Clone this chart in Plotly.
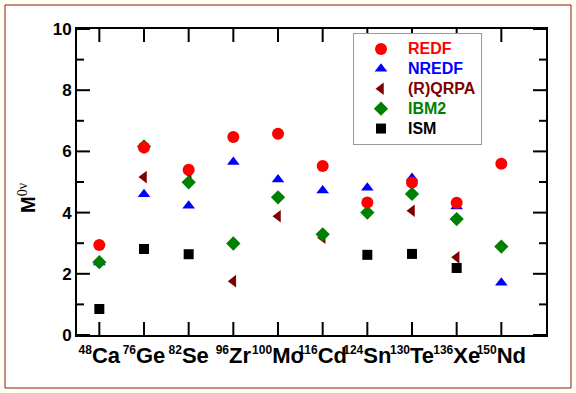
import plotly.graph_objects as go

nuclei = ["Ca", "Ge", "Se", "Zr", "Mo", "Cd", "Sn", "Te", "Xe", "Nd"]
mass = ["48", "76", "82", "96", "100", "116", "124", "130", "136", "150"]
xpos = [1, 2, 3, 4, 5, 6, 7, 8, 9, 10]

redf = [2.94, 6.13, 5.40, 6.47, 6.58, 5.52, 4.33, 4.98, 4.32, 5.60]
nredf = [2.37, 4.60, 4.22, 5.65, 5.08, 4.72, 4.81, 5.13, 4.20, 1.71]
qrpa = [None, 5.16, 5.30, 1.76, 3.88, 3.18, None, 4.06, 2.54, None]
ibm2 = [2.38, 6.16, 4.99, 2.99, 4.50, 3.29, 4.00, 4.61, 3.79, 2.89]
ism = [0.85, 2.81, 2.64, None, None, None, 2.62, 2.65, 2.19, None]

ytick_major = [0, 2, 4, 6, 8, 10]
ytick_minor = [1, 3, 5, 7, 9]
x_range = [0.5, 11]
y_range = [0, 10]

W, H = 576, 393
L, R, T, B = 77, 546, 29, 335
CREAM = "#FFFEF0"
PW, PH = R - L, B - T

def px(x):
    return (x - L) / PW

def py(y):
    return (B - y) / PH

fig = go.Figure()

def lbl(name, color):
    return f'<span style="color:{color};font-size:16px">{name}</span>'

fig.add_trace(go.Scatter(x=xpos, y=nredf, mode="markers", name=lbl("NREDF", "#0000FF"), legendrank=2,
                         marker=dict(symbol="triangle-up", size=11, color="#0000FF")))
fig.add_trace(go.Scatter(x=xpos, y=qrpa, mode="markers", name=lbl("(R)QRPA", "#800000"), legendrank=3,
                         marker=dict(symbol="triangle-left", size=11, color="#800000")))
fig.add_trace(go.Scatter(x=xpos, y=ibm2, mode="markers", name=lbl("IBM2", "#008000"), legendrank=4,
                         marker=dict(symbol="diamond", size=11, color="#008000")))
fig.add_trace(go.Scatter(x=xpos, y=redf, mode="markers", name=lbl("REDF", "#FF0000"), legendrank=1,
                         marker=dict(symbol="circle", size=12, color="#FF0000")))
fig.add_trace(go.Scatter(x=xpos, y=ism, mode="markers", name=lbl("ISM", "#000000"), legendrank=5,
                         marker=dict(symbol="square", size=10, color="#000000")))

# inside tick marks on all four sides, drawn as a line trace (lengths in pixels -> data units)
xs_len = (y_range[1] - y_range[0]) * 13 / PH
ys_major = (x_range[1] - x_range[0]) * 13 / PW
ys_minor = (x_range[1] - x_range[0]) * 7 / PW
tx, ty = [], []
for xv in xpos:
    tx += [xv, xv, None, xv, xv, None]
    ty += [y_range[0], y_range[0] + xs_len, None, y_range[1], y_range[1] - xs_len, None]
for vals, ln in ((ytick_major, ys_major), (ytick_minor, ys_minor)):
    for yv in vals:
        tx += [x_range[0], x_range[0] + ln, None, x_range[1], x_range[1] - ln, None]
        ty += [yv, yv, None, yv, yv, None]
fig.add_trace(go.Scatter(x=tx, y=ty, mode="lines", line=dict(color="black", width=2),
                         showlegend=False, hoverinfo="skip", cliponaxis=False, connectgaps=False))

ticktext = [f'<sup><span style="font-size:12px">{m}</span></sup>{n}' for m, n in zip(mass, nuclei)]

def prect(x0, x1, y0, y1, color, layer):
    return dict(type="rect", xref="paper", yref="paper", x0=x0, x1=x1, y0=y0, y1=y1,
                line=dict(width=0), fillcolor=color, layer=layer)

def strip(x0, x1, y0, y1):
    return prect(px(x0), px(x1), py(y0), py(y1), CREAM, "below")

LEG_TOP, LEG_BOT = 33, 137
shapes = [
    strip(0, W, 0, 5), strip(0, W, 388, H), strip(0, 5, 0, H), strip(571, W, 0, H),
    dict(type="rect", xref="paper", yref="paper", x0=px(5), x1=px(571), y0=py(5), y1=py(388),
         line=dict(color="#8B1A1A", width=1), fillcolor="rgba(0,0,0,0)", layer="below"),
    prect(px(358), px(482), py(LEG_TOP + 5), py(LEG_BOT + 5), "black", "above"),
]

fig.update_layout(
    width=W, height=H,
    margin=dict(l=L, r=W - R, t=T, b=H - B, autoexpand=False),
    paper_bgcolor="white",
    plot_bgcolor="white",
    font=dict(family="Liberation Sans, Arial", size=17, color="black", weight="bold"),
    showlegend=True,
    legend=dict(x=px(353), y=py(LEG_TOP), xanchor="left", yanchor="top",
                bgcolor="white", bordercolor="#999999", borderwidth=1,
                font=dict(size=13, family="Liberation Sans, Arial", weight="bold"),
                tracegroupgap=0, itemwidth=44),
    shapes=shapes,
    annotations=[dict(text='M<sup><span style="font-family:Liberation Serif;font-weight:normal">0ν</span></sup>',
                      textangle=-90, xref="paper", yref="paper", x=px(27), y=py(198),
                      xanchor="center", yanchor="middle", showarrow=False,
                      font=dict(size=20, family="Liberation Sans, Arial", weight="bold"))],
    xaxis=dict(range=x_range, tickvals=xpos, ticktext=ticktext, tickangle=0,
               tickfont=dict(size=22, family="Liberation Sans, Arial", weight="bold"),
               showgrid=False, zeroline=False, automargin=False,
               showline=True, linecolor="black", linewidth=2, mirror=True, ticks=""),
    yaxis=dict(range=y_range, tickvals=ytick_major,
               tickfont=dict(size=17, family="Liberation Sans, Arial", weight="bold"),
               showgrid=False, zeroline=False, automargin=False,
               showline=True, linecolor="black", linewidth=2, mirror=True, ticks=""),
)

fig.write_html("out.html", config={"displayModeBar": False},
               post_script="document.body.style.margin='0';")
